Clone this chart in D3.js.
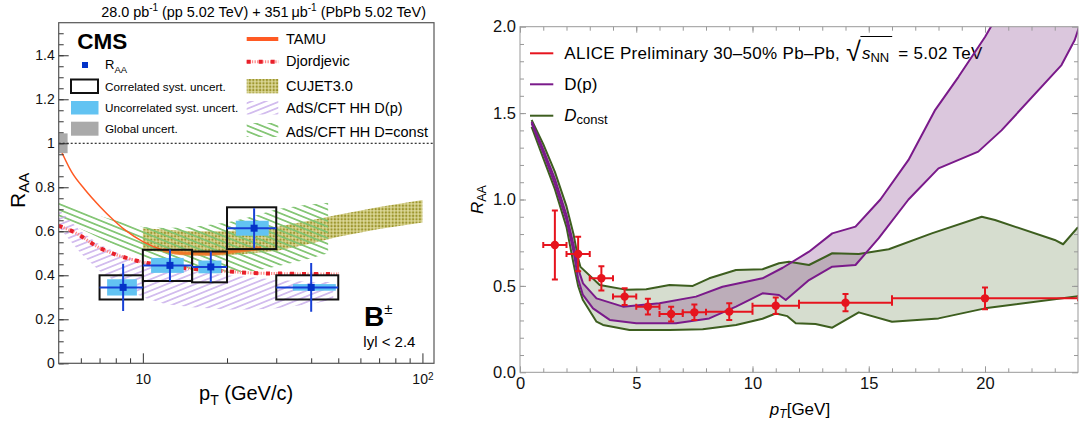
<!DOCTYPE html>
<html>
<head>
<meta charset="utf-8">
<script src="https://cdn.jsdelivr.net/npm/d3@7"></script>
<style>
  body { margin: 0; background: #fff; }
  text { font-family: "Liberation Sans", Arial, sans-serif; }
</style>
</head>
<body>
<svg id="fig" width="1086" height="423"></svg>
<script>
// ---------- left panel data (CMS B+ RAA, log pT) ----------
const bPt     = [8.5, 12.5, 17.5, 25, 40];
const bLo     = [7, 10, 15, 20, 30];
const bHi     = [10, 15, 20, 30, 50];
const bRaa    = [0.345, 0.445, 0.438, 0.614, 0.345];
const bStat   = [0.107, 0.072, 0.07, 0.091, 0.111];
const bCorr   = [0.055, 0.071, 0.07, 0.095, 0.055];
const bUncLo  = [7.45, 10.7, 15.8, 21.5, 34.4];
const bUncHi  = [9.52, 14.0, 19.1, 28.2, 49.0];
const bUnc    = [0.037, 0.034, 0.029, 0.034, 0.015];

const tamuPt  = [5, 5.56, 6.2, 7.03, 7.8, 8.63, 10, 11.8, 14, 17, 20, 23, 26.5];
const tamuR   = [0.99, 0.87, 0.79, 0.712, 0.655, 0.606, 0.553, 0.515, 0.50, 0.498, 0.505, 0.515, 0.523];

const djPt    = [5, 5.7, 7, 9, 12, 15, 20, 25, 30, 40, 50];
const djR     = [0.625, 0.595, 0.525, 0.474, 0.443, 0.43, 0.418, 0.41, 0.408, 0.406, 0.406];

const cuPt    = [10, 15, 20, 30, 40, 50, 70, 100];
const cuUp    = [0.614, 0.60, 0.60, 0.62, 0.65, 0.675, 0.71, 0.742];
const cuLo    = [0.515, 0.49, 0.49, 0.51, 0.545, 0.575, 0.61, 0.64];

const hcPt    = [5, 6, 7, 8.5, 10, 12, 15, 20, 25, 30, 38, 46];
const hcUp    = [0.74, 0.70, 0.67, 0.64, 0.62, 0.615, 0.62, 0.64, 0.67, 0.70, 0.72, 0.73];
const hcLo    = [0.67, 0.61, 0.57, 0.52, 0.48, 0.44, 0.42, 0.41, 0.42, 0.44, 0.47, 0.50];

const hpPt    = [5, 6, 7, 8.5, 10, 12, 15, 20, 25, 30, 40, 48];
const hpUp    = [0.70, 0.60, 0.54, 0.49, 0.46, 0.44, 0.42, 0.40, 0.39, 0.38, 0.37, 0.37];
const hpLo    = [0.62, 0.50, 0.42, 0.35, 0.30, 0.27, 0.255, 0.245, 0.245, 0.25, 0.27, 0.29];

const leftYTicks = [0, 0.2, 0.4, 0.6, 0.8, 1, 1.2, 1.4];
const leftXTicks = [10, 100];
const leftXMinor = [6, 7, 8, 9, 20, 30, 40, 50, 60, 70, 80, 90];

// ---------- right panel data (ALICE D RAA, linear pT) ----------
const aPt  = [1.5, 2.5, 3.5, 4.5, 5.5, 6.5, 7.5, 9, 11, 14, 20];
const aLo  = [1, 2, 3, 4, 5, 6, 7, 8, 10, 12, 16];
const aHi  = [2, 3, 4, 5, 6, 7, 8, 10, 12, 16, 24];
const aRaa = [0.737, 0.685, 0.544, 0.438, 0.38, 0.337, 0.347, 0.351, 0.385, 0.403, 0.428];
const aErr = [0.20, 0.10, 0.07, 0.048, 0.045, 0.043, 0.045, 0.048, 0.048, 0.05, 0.063];

const dpUpX = [0.5, 1.0, 1.5, 2.0, 2.3, 2.5, 2.71, 3.29, 4.43, 6.0, 7.57, 8.71, 10.43, 11.3, 12.43, 13.43, 14.43, 15.5, 16.71, 17.86, 18.86, 20.0, 20.6];
const dpUpY = [1.45, 1.29, 1.12, 0.91, 0.74, 0.60, 0.515, 0.428, 0.38, 0.40, 0.438, 0.495, 0.544, 0.605, 0.698, 0.804, 0.843, 1.0, 1.229, 1.519, 1.71, 1.94, 2.08];
const dpLoX = [0.5, 1.0, 1.5, 2.0, 2.3, 2.5, 2.7, 3.14, 3.86, 5.0, 6.71, 8.14, 9.29, 10.43, 11.14, 11.43, 12.43, 13.43, 14.43, 15.43, 16.71, 18.0, 19.71, 20.71, 23.29, 23.86, 24.1];
const dpLoY = [1.44, 1.27, 1.09, 0.88, 0.70, 0.54, 0.45, 0.37, 0.303, 0.284, 0.284, 0.312, 0.38, 0.457, 0.447, 0.418, 0.534, 0.611, 0.621, 0.776, 1.0, 1.18, 1.277, 1.40, 1.778, 1.923, 2.02];

const dcUpX = [0.5, 1.0, 1.5, 2.0, 2.3, 2.5, 2.6, 3.43, 4.6, 5.43, 6.43, 7.43, 8.14, 9.29, 10.43, 11.14, 11.57, 12.43, 13.43, 14.57, 15.86, 17.71, 19.86, 20.43, 23.0, 23.36, 24.0];
const dcUpY = [1.46, 1.32, 1.16, 0.96, 0.80, 0.66, 0.61, 0.505, 0.477, 0.48, 0.505, 0.50, 0.544, 0.592, 0.596, 0.631, 0.64, 0.621, 0.689, 0.685, 0.712, 0.804, 0.90, 0.881, 0.766, 0.741, 0.84];
const dcLoX = [0.5, 1.0, 1.5, 2.0, 2.3, 2.5, 2.7, 3.29, 3.57, 4.71, 6.43, 7.86, 9.29, 10.43, 11.0, 11.5, 11.86, 12.71, 13.43, 14.57, 16.0, 18.0, 20.0, 24.0];
const dcLoY = [1.42, 1.24, 1.06, 0.84, 0.63, 0.50, 0.42, 0.293, 0.274, 0.245, 0.245, 0.249, 0.274, 0.31, 0.34, 0.325, 0.284, 0.28, 0.258, 0.347, 0.293, 0.312, 0.37, 0.44];

const rightXTicks = [0, 5, 10, 15, 20];
const rightYTicks = [0, 0.5, 1.0, 1.5, 2.0];

// ---------- setup ----------
const svg = d3.select("#fig");
const defs = svg.append("defs");

function hatch(id, color, angle, gap, w) {
    const p = defs.append("pattern").attr("id", id)
        .attr("patternUnits", "userSpaceOnUse")
        .attr("width", 8).attr("height", gap)
        .attr("patternTransform", `rotate(${angle})`);
    p.append("line").attr("x1", 0).attr("x2", 8)
        .attr("y1", gap / 2).attr("y2", gap / 2)
        .attr("stroke", color).attr("stroke-width", w);
}
hatch("hG", "#80c470", 22, 5.3, 1.7);
hatch("hP", "#c6aaea", -22, 5.3, 1.4);
const dots = defs.append("pattern").attr("id", "dots")
    .attr("patternUnits", "userSpaceOnUse").attr("width", 3.4).attr("height", 3.4);
dots.append("rect").attr("width", 3.4).attr("height", 3.4).attr("fill", "#dcd898");
dots.append("circle").attr("cx", 1.7).attr("cy", 1.7).attr("r", 1.2).attr("fill", "#9d962e");

const zip = (xs, ys) => xs.map((x, i) => [x, ys[i]]);
function bandPath(up, lo, xs, ys) {
    const pts = up.concat(lo.slice().reverse());
    return d3.line().x(d => xs(d[0])).y(d => ys(d[1]))(pts) + "Z";
}

// ================= LEFT PANEL =================
const xL = d3.scaleLog().domain([5, 110]).range([58.7, 434]);
const yL = d3.scaleLinear().domain([0, 1.548]).range([363.3, 22.7]);

defs.append("clipPath").attr("id", "clipL").append("rect")
    .attr("x", 58.7).attr("y", 22.7).attr("width", 434 - 58.7).attr("height", 363.3 - 22.7);

const gL = svg.append("g");
const plotL = gL.append("g").attr("clip-path", "url(#clipL)");

// theory bands
plotL.append("path").attr("d", bandPath(zip(cuPt, cuUp), zip(cuPt, cuLo), xL, yL)).attr("fill", "url(#dots)");
plotL.append("path").attr("d", bandPath(zip(hcPt, hcUp), zip(hcPt, hcLo), xL, yL)).attr("fill", "url(#hG)");
plotL.append("path").attr("d", bandPath(zip(hpPt, hpUp), zip(hpPt, hpLo), xL, yL)).attr("fill", "url(#hP)");

const lineL = d3.line().x(d => xL(d[0])).y(d => yL(d[1])).curve(d3.curveMonotoneX);
const tamu = zip(tamuPt, tamuR);
plotL.append("path").attr("d", lineL(tamu)).attr("fill", "none").attr("stroke", "#ff5a23").attr("stroke-width", 1.5);
plotL.append("path").attr("d", lineL(tamu.filter(d => d[0] >= 11.8))).attr("fill", "none")
    .attr("stroke", "#ee7a28").attr("stroke-width", 4).attr("opacity", 0.85);

const dj = zip(djPt, djR);
plotL.append("path").attr("d", lineL(dj)).attr("fill", "none").attr("stroke", "#ff8a8a")
    .attr("stroke-width", 3).attr("stroke-dasharray", "1.3,1.3");
plotL.append("path").attr("d", lineL(dj)).attr("fill", "none").attr("stroke", "#e8202a")
    .attr("stroke-width", 4).attr("stroke-dasharray", "4,8");

// global uncertainty and unity line
plotL.append("rect").attr("x", xL(5)).attr("width", xL(5.38) - xL(5))
    .attr("y", yL(1.045)).attr("height", yL(0.955) - yL(1.045)).attr("fill", "#aaaaaa");
plotL.append("line").attr("x1", xL(5)).attr("x2", xL(110)).attr("y1", yL(1)).attr("y2", yL(1))
    .attr("stroke", "#000").attr("stroke-width", 1).attr("stroke-dasharray", "2,2");

// data
const bData = bPt.map((p, i) => ({p, lo: bLo[i], hi: bHi[i], r: bRaa[i], s: bStat[i], c: bCorr[i],
    ul: bUncLo[i], uh: bUncHi[i], u: bUnc[i]}));
plotL.selectAll(".unc").data(bData).join("rect").attr("class", "unc")
    .attr("x", d => xL(d.ul)).attr("width", d => xL(d.uh) - xL(d.ul))
    .attr("y", d => yL(d.r + d.u)).attr("height", d => yL(d.r - d.u) - yL(d.r + d.u))
    .attr("fill", "#62c3f2");
plotL.selectAll(".corr").data(bData).join("rect").attr("class", "corr")
    .attr("x", d => xL(d.lo)).attr("width", d => xL(d.hi) - xL(d.lo))
    .attr("y", d => yL(d.r + d.c)).attr("height", d => yL(d.r - d.c) - yL(d.r + d.c))
    .attr("fill", "none").attr("stroke", "#111").attr("stroke-width", 2);
plotL.selectAll(".ex").data(bData).join("line").attr("class", "ex")
    .attr("x1", d => xL(d.lo)).attr("x2", d => xL(d.hi)).attr("y1", d => yL(d.r)).attr("y2", d => yL(d.r))
    .attr("stroke", "#1740d6").attr("stroke-width", 2);
plotL.selectAll(".ey").data(bData).join("line").attr("class", "ey")
    .attr("x1", d => xL(d.p)).attr("x2", d => xL(d.p)).attr("y1", d => yL(d.r + d.s)).attr("y2", d => yL(d.r - d.s))
    .attr("stroke", "#1740d6").attr("stroke-width", 2);
plotL.selectAll(".mk").data(bData).join("rect").attr("class", "mk")
    .attr("x", d => xL(d.p) - 3.5).attr("y", d => yL(d.r) - 3.5).attr("width", 7).attr("height", 7)
    .attr("fill", "#0433c8");

// axes
const xAxL = gL.append("g").attr("transform", `translate(0,${yL(0)})`)
    .call(d3.axisBottom(xL).tickValues(leftXTicks).tickSizeInner(-10).tickSizeOuter(0).tickPadding(11).tickFormat(() => "10"));
xAxL.selectAll(".tick text").filter(d => d === 100).append("tspan").attr("dy", "-0.45em").attr("font-size", "10px").text("2");
gL.append("g").attr("transform", `translate(0,${yL(0)})`)
    .call(d3.axisBottom(xL).tickValues(leftXMinor).tickSize(-5).tickFormat(""));
gL.append("g").attr("transform", `translate(${xL(5)},0)`)
    .call(d3.axisLeft(yL).tickValues(leftYTicks).tickSizeInner(-10).tickSizeOuter(0).tickPadding(4)
        .tickFormat(d => (d === 0 || d === 1) ? String(d) : d3.format(".1f")(d)));
gL.append("g").attr("transform", `translate(${xL(5)},0)`)
    .call(d3.axisLeft(yL).tickValues(d3.range(0, 1.54, 0.05)).tickSize(-5).tickFormat(""));
gL.selectAll(".domain").remove();
gL.selectAll(".tick line").attr("stroke", "#333");
gL.selectAll(".tick text").attr("font-size", "14px").attr("fill", "#111")
    .style("font-family", '"Liberation Sans", Arial, sans-serif');
gL.append("rect").attr("x", 58.7).attr("y", 22.7).attr("width", 434 - 58.7).attr("height", 363.3 - 22.7)
    .attr("fill", "none").attr("stroke", "#555").attr("stroke-width", 1.2);

// header
const hdr = gL.append("text").attr("x", 426).attr("y", 16.7).attr("text-anchor", "end").attr("font-size", "14.4px");
hdr.append("tspan").text("28.0 pb");
hdr.append("tspan").attr("dy", -5.5).attr("font-size", "10px").text("-1");
hdr.append("tspan").attr("dy", 5.5).text(" (pp 5.02 TeV) + 351\u2009\u03bcb");
hdr.append("tspan").attr("dy", -5.5).attr("font-size", "10px").text("-1");
hdr.append("tspan").attr("dy", 5.5).text(" (PbPb 5.02 TeV)");

// CMS legend block
gL.append("text").attr("x", 77.3).attr("y", 49.3).attr("font-size", "22.5px").attr("font-weight", "bold").text("CMS");
gL.append("rect").attr("x", 82).attr("y", 62).attr("width", 6).attr("height", 6).attr("fill", "#0433c8");
const raaLeg = gL.append("text").attr("x", 105).attr("y", 69.3).attr("font-size", "13px");
raaLeg.append("tspan").text("R");
raaLeg.append("tspan").attr("dy", 3.5).attr("font-size", "9.5px").text("AA");
gL.append("rect").attr("x", 71).attr("y", 79.5).attr("width", 27).attr("height", 13.5)
    .attr("fill", "none").attr("stroke", "#111").attr("stroke-width", 2);
gL.append("rect").attr("x", 71).attr("y", 101).attr("width", 27.5).attr("height", 13.5).attr("fill", "#62c3f2");
gL.append("rect").attr("x", 71).attr("y", 121.7).attr("width", 27.5).attr("height", 14).attr("fill", "#aaaaaa");
[["Correlated syst. uncert.", 90.7], ["Uncorrelated syst. uncert.", 111.7], ["Global uncert.", 132.7]]
    .forEach(([t, y]) => gL.append("text").attr("x", 105).attr("y", y).attr("font-size", "11.7px").text(t));

// theory legend
gL.append("line").attr("x1", 246.7).attr("x2", 278.3).attr("y1", 39).attr("y2", 39)
    .attr("stroke", "#ff5a23").attr("stroke-width", 4);
gL.append("line").attr("x1", 246.7).attr("x2", 278.3).attr("y1", 61.7).attr("y2", 61.7)
    .attr("stroke", "#ff8a8a").attr("stroke-width", 3).attr("stroke-dasharray", "1.3,1.3");
gL.append("line").attr("x1", 246.7).attr("x2", 278.3).attr("y1", 61.7).attr("y2", 61.7)
    .attr("stroke", "#e8202a").attr("stroke-width", 4).attr("stroke-dasharray", "4,8");
gL.append("rect").attr("x", 246.7).attr("y", 79).attr("width", 31.6).attr("height", 14.3).attr("fill", "url(#dots)");
gL.append("rect").attr("x", 246.7).attr("y", 101).attr("width", 31.6).attr("height", 13.5).attr("fill", "url(#hP)");
gL.append("rect").attr("x", 246.7).attr("y", 123).attr("width", 31.6).attr("height", 14).attr("fill", "url(#hG)");
[["TAMU", 43.5], ["Djordjevic", 65.9], ["CUJET3.0", 90.8], ["AdS/CFT HH D(p)", 112.8], ["AdS/CFT HH D=const", 136.8]]
    .forEach(([t, y]) => gL.append("text").attr("x", 286).attr("y", y).attr("font-size", "14.5px").text(t));

// B+ label
const bl = gL.append("text").attr("x", 364).attr("y", 326).attr("font-size", "28px").attr("font-weight", "bold");
bl.append("tspan").text("B");
bl.append("tspan").attr("dy", -12).attr("font-size", "15px").attr("font-weight", "normal").text("\u00b1");
gL.append("text").attr("x", 363.3).attr("y", 346.5).attr("font-size", "15px").text("lyl < 2.4");

// axis titles
const ytL = gL.append("text").attr("transform", "translate(25,208) rotate(-90)").attr("font-size", "21px");
ytL.append("tspan").text("R");
ytL.append("tspan").attr("dy", 4).attr("font-size", "15px").text("AA");
const xtL = gL.append("text").attr("x", 199).attr("y", 400).attr("font-size", "20px");
xtL.append("tspan").text("p");
xtL.append("tspan").attr("dy", 5).attr("font-size", "14px").text("T");
xtL.append("tspan").attr("dy", -5).text(" (GeV/c)");

// ================= RIGHT PANEL =================
const xR = d3.scaleLinear().domain([0, 24]).range([520, 1078]);
const yR = d3.scaleLinear().domain([0, 2]).range([372.3, 26.7]);

defs.append("clipPath").attr("id", "clipR").append("rect")
    .attr("x", 520).attr("y", 26.7).attr("width", 1078 - 520).attr("height", 372.3 - 26.7);

const gR = svg.append("g");

// legend (drawn under the bands)
const legR = [["#e6141e", 53.3], ["#7a1a8a", 84.3], ["#3d5e1f", 115.7]];
legR.forEach(([c, y]) => gR.append("line").attr("x1", 530).attr("x2", 553.3).attr("y1", y).attr("y2", y)
    .attr("stroke", c).attr("stroke-width", 2));
const t1 = gR.append("text").attr("x", 564.3).attr("y", 58.8).attr("font-size", "17px")
    .attr("letter-spacing", "0.3px").text("ALICE Preliminary 30\u201350% Pb\u2013Pb,");
let cx = 564.3 + t1.node().getComputedTextLength() + 6;
const rad = gR.append("text").attr("x", cx).attr("y", 61).attr("font-size", "27px").text("\u221a");
cx += rad.node().getComputedTextLength();
const t2 = gR.append("text").attr("x", cx + 1).attr("y", 58.8).attr("font-size", "17px");
t2.append("tspan").attr("font-style", "italic").text("s");
t2.append("tspan").attr("dy", 3).attr("font-size", "13px").text("NN");
const t2w = t2.node().getComputedTextLength();
gR.append("line").attr("x1", cx - 0.5).attr("x2", cx + t2w + 4).attr("y1", 36.5).attr("y2", 36.5)
    .attr("stroke", "#000").attr("stroke-width", 1.1);
gR.append("text").attr("x", cx + t2w + 10).attr("y", 58.8).attr("font-size", "17px")
    .attr("letter-spacing", "0.3px").text("= 5.02 TeV");
gR.append("text").attr("x", 564.3).attr("y", 89.8).attr("font-size", "17px").text("D(p)");
const dl = gR.append("text").attr("x", 564.3).attr("y", 121).attr("font-size", "17px");
dl.append("tspan").attr("font-style", "italic").text("D");
dl.append("tspan").attr("dy", 3).attr("font-size", "13px").text("const");

const plotR = gR.append("g").attr("clip-path", "url(#clipR)");
const lineR = d3.line().x(d => xR(d[0])).y(d => yR(d[1]));
const dcUp = zip(dcUpX, dcUpY), dcLo = zip(dcLoX, dcLoY);
const dpUp = zip(dpUpX, dpUpY), dpLo = zip(dpLoX, dpLoY);
plotR.append("path").attr("d", bandPath(dcUp, dcLo, xR, yR)).attr("fill", "rgb(60,95,30)").attr("fill-opacity", 0.21);
plotR.append("path").attr("d", bandPath(dpUp, dpLo, xR, yR)).attr("fill", "rgb(110,30,120)").attr("fill-opacity", 0.25);
[dcUp, dcLo].forEach(p => plotR.append("path").attr("d", lineR(p)).attr("fill", "none")
    .attr("stroke", "#3d5e1f").attr("stroke-width", 2).attr("stroke-linejoin", "round"));
[dpUp, dpLo].forEach(p => plotR.append("path").attr("d", lineR(p)).attr("fill", "none")
    .attr("stroke", "#7a1a8a").attr("stroke-width", 2).attr("stroke-linejoin", "round"));

// ALICE points
const aData = aPt.map((p, i) => ({p, lo: aLo[i], hi: aHi[i], r: aRaa[i], e: aErr[i]}));
const red = "#e6141e", cap = 3;
const pts = plotR.selectAll(".ap").data(aData).join("g").attr("class", "ap")
    .attr("stroke", red).attr("stroke-width", 2);
pts.append("line").attr("x1", d => xR(d.lo)).attr("x2", d => xR(d.hi)).attr("y1", d => yR(d.r)).attr("y2", d => yR(d.r));
pts.append("line").attr("x1", d => xR(d.p)).attr("x2", d => xR(d.p)).attr("y1", d => yR(d.r + d.e)).attr("y2", d => yR(d.r - d.e));
pts.append("line").attr("x1", d => xR(d.lo)).attr("x2", d => xR(d.lo)).attr("y1", d => yR(d.r) - cap).attr("y2", d => yR(d.r) + cap);
pts.append("line").attr("x1", d => xR(d.hi)).attr("x2", d => xR(d.hi)).attr("y1", d => yR(d.r) - cap).attr("y2", d => yR(d.r) + cap);
pts.append("line").attr("x1", d => xR(d.p) - cap).attr("x2", d => xR(d.p) + cap).attr("y1", d => yR(d.r + d.e)).attr("y2", d => yR(d.r + d.e));
pts.append("line").attr("x1", d => xR(d.p) - cap).attr("x2", d => xR(d.p) + cap).attr("y1", d => yR(d.r - d.e)).attr("y2", d => yR(d.r - d.e));
pts.append("circle").attr("cx", d => xR(d.p)).attr("cy", d => yR(d.r)).attr("r", 4.2).attr("fill", red).attr("stroke", "none");

// axes and frame
const axR = gR.append("g");
axR.append("g").attr("transform", `translate(0,${yR(0)})`)
    .call(d3.axisBottom(xR).tickValues(rightXTicks).tickSizeInner(-6).tickSizeOuter(0).tickPadding(5).tickFormat(d3.format("d")));
axR.append("g").attr("transform", `translate(0,${yR(0)})`)
    .call(d3.axisBottom(xR).tickValues(d3.range(1, 24, 1)).tickSize(-4).tickFormat(""));
axR.append("g").attr("transform", `translate(0,${yR(2)})`)
    .call(d3.axisTop(xR).tickValues(rightXTicks).tickSize(-6).tickFormat(""));
axR.append("g").attr("transform", `translate(0,${yR(2)})`)
    .call(d3.axisTop(xR).tickValues(d3.range(1, 24, 1)).tickSize(-4).tickFormat(""));
axR.append("g").attr("transform", `translate(${xR(0)},0)`)
    .call(d3.axisLeft(yR).tickValues(rightYTicks).tickSizeInner(-6).tickSizeOuter(0).tickPadding(4).tickFormat(d3.format(".1f")));
axR.append("g").attr("transform", `translate(${xR(0)},0)`)
    .call(d3.axisLeft(yR).tickValues(d3.range(0.1, 2, 0.1)).tickSize(-4).tickFormat(""));
axR.append("g").attr("transform", `translate(${xR(24)},0)`)
    .call(d3.axisRight(yR).tickValues(rightYTicks).tickSize(-6).tickFormat(""));
axR.append("g").attr("transform", `translate(${xR(24)},0)`)
    .call(d3.axisRight(yR).tickValues(d3.range(0.1, 2, 0.1)).tickSize(-4).tickFormat(""));
axR.selectAll(".domain").remove();
axR.selectAll(".tick line").attr("stroke", "#999");
axR.selectAll(".tick text").attr("font-size", "16.5px").attr("fill", "#111")
    .style("font-family", '"Liberation Sans", Arial, sans-serif');
axR.append("rect").attr("x", 520).attr("y", 26.7).attr("width", 1078 - 520).attr("height", 372.3 - 26.7)
    .attr("fill", "none").attr("stroke", "#999").attr("stroke-width", 1);

// axis titles
const ytR = gR.append("text").attr("transform", "translate(483,214) rotate(-90)").attr("font-size", "17px");
ytR.append("tspan").attr("font-style", "italic").text("R");
ytR.append("tspan").attr("dy", 3).attr("font-size", "12.5px").text("AA");
const xtR = gR.append("text").attr("x", 800).attr("y", 415).attr("text-anchor", "middle").attr("font-size", "17px");
xtR.append("tspan").attr("font-style", "italic").text("p");
xtR.append("tspan").attr("dy", 3).attr("font-size", "12px").attr("font-style", "italic").text("T");
xtR.append("tspan").attr("dy", -3).text("[GeV]");
</script>
</body>
</html>
